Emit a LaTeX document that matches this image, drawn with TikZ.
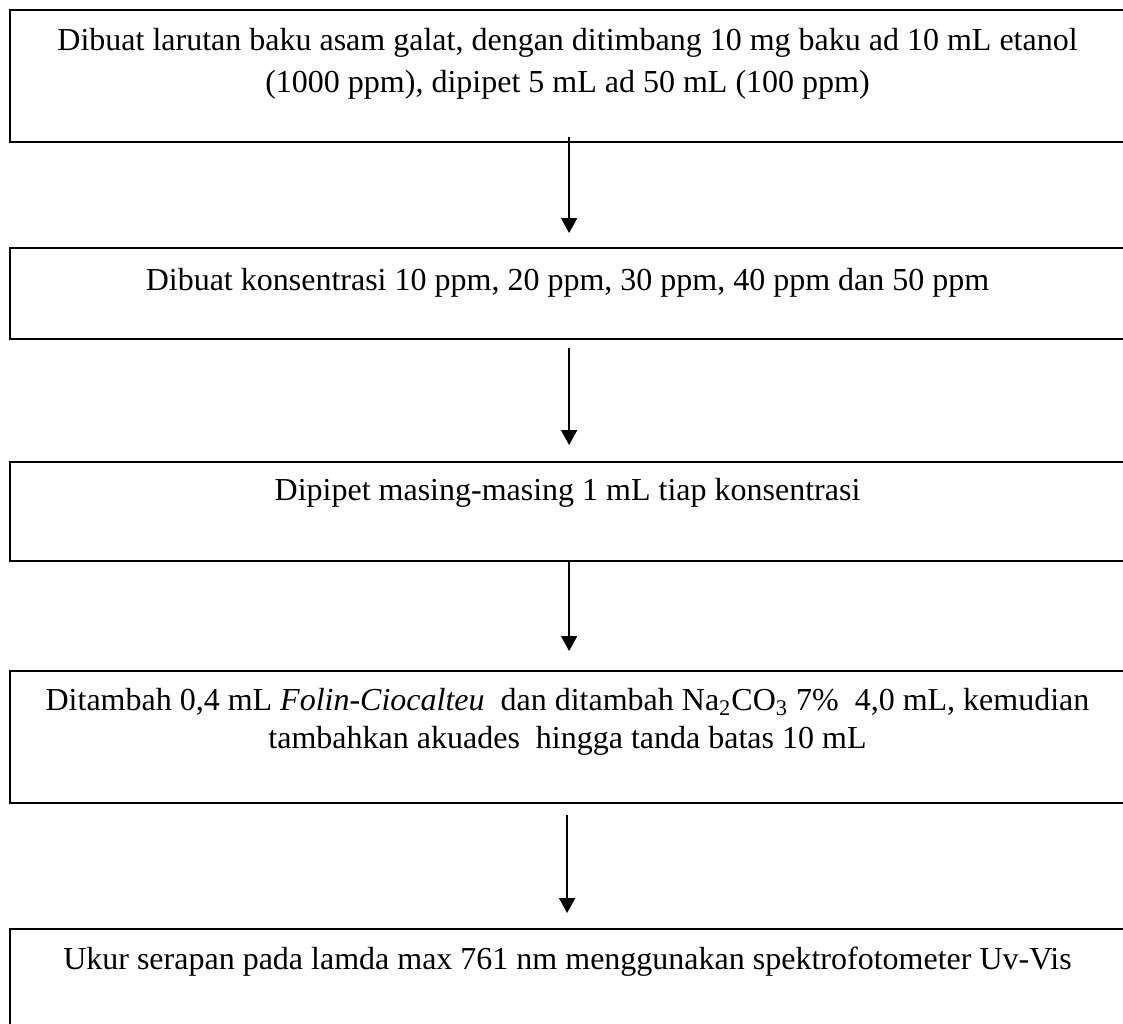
\documentclass[tikz,border=0pt]{standalone}
\usepackage{fontspec}
\setmainfont{Liberation Serif}
\usetikzlibrary{arrows.meta}
\begin{document}
\begin{tikzpicture}[x=0.5pt,y=-0.5pt,
  stepbox/.style={draw=black, line width=1.1pt, rectangle, inner sep=0pt,
    anchor=north west, minimum width=558.5pt},
  txt/.style={inner sep=0pt, anchor=base, font=\fontsize{16pt}{20pt}\selectfont},
  flow/.style={line width=0.9pt, -{Triangle[length=7.5pt,width=8pt]}}]
\useasboundingbox (0,0) rectangle (1123,1023);
\clip (0,0) rectangle (1123,1023);
\fill[white] (0,0) rectangle (1123,1023);

% process boxes (right edges run past the page)
\node[stepbox, minimum height=66pt]   (b1) at (9,9)   {};
\node[stepbox, minimum height=45.5pt] (b2) at (9,247) {};
\node[stepbox, minimum height=49.5pt] (b3) at (9,461) {};
\node[stepbox, minimum height=66pt]   (b4) at (9,670) {};
\node[stepbox, minimum height=60pt]   (b5) at (9,928) {};

% step texts
\node[txt] (t1a) at (567.5,50) {Dibuat larutan baku asam galat, dengan ditimbang 10 mg baku ad 10 mL etanol};
\node[txt] (t1b) at (567.5,92) {(1000 ppm), dipipet 5 mL ad 50 mL (100 ppm)};
\node[txt] (t2)  at (567.5,290) {Dibuat konsentrasi 10 ppm, 20 ppm, 30 ppm, 40 ppm dan 50 ppm};
\node[txt] (t3)  at (567.5,500) {Dipipet masing-masing 1 mL tiap konsentrasi};
\node[txt] (t4a) at (567.5,710) {Ditambah 0,4 mL \textit{Folin-Ciocalteu}\ \ dan ditambah Na\textsubscript{2}CO\textsubscript{3} 7\%\ \ 4,0 mL, kemudian};
\node[txt] (t4b) at (567.5,748) {tambahkan akuades\ \ hingga tanda batas 10 mL};
\node[txt] (t5)  at (567.5,969) {Ukur serapan pada lamda max 761 nm menggunakan spektrofotometer Uv-Vis};

% flow arrows
\draw[flow] ([xshift=0.25pt,yshift=3pt]b1.south) -- ([xshift=0.25pt,yshift=7pt]b2.north);
\draw[flow] ([xshift=0.25pt,yshift=-4pt]b2.south) -- ([xshift=0.25pt,yshift=8pt]b3.north);
\draw[flow] ([xshift=0.25pt]b3.south) -- ([xshift=0.25pt,yshift=9.5pt]b4.north);
\draw[flow] ([xshift=-0.75pt,yshift=-5.5pt]b4.south) -- ([xshift=-0.75pt,yshift=7.5pt]b5.north);
\end{tikzpicture}
\end{document}
